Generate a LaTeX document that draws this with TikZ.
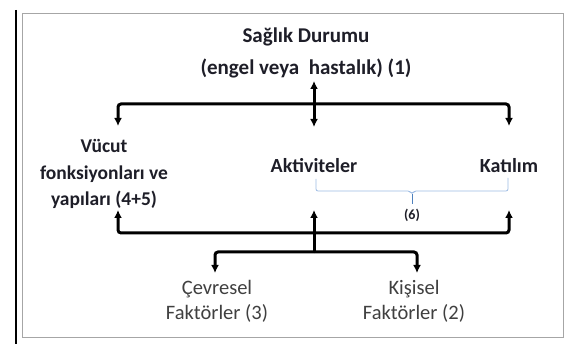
\documentclass[tikz,border=0pt]{standalone}
\usepackage{fontspec}
\setmainfont{Carlito}
\usetikzlibrary{arrows.meta}
\definecolor{txt}{HTML}{1E1E28}
\definecolor{lowtxt}{HTML}{404040}
\definecolor{brk}{HTML}{9DBCE4}
\definecolor{brkmid}{HTML}{4F81BD}
\definecolor{framegray}{HTML}{A6A6A6}
\begin{document}
\begin{tikzpicture}[x=1pt,y=-1pt,
  conn/.style={line width=3pt, rounded corners=3pt},
  tip/.style={-{Latex[length=8pt,width=8pt]}},
  twotip/.style={{Latex[length=8pt,width=8pt]}-{Latex[length=8pt,width=8pt]}},
  boldtxt/.style={inner sep=0pt, align=center, text=txt, font=\fontsize{20}{27}\selectfont\bfseries},
  lowtext/.style={inner sep=0pt, align=center, text=lowtxt, font=\fontsize{20.5}{25}\selectfont},
  bracket/.style={draw=brk, line width=0.8pt, rounded corners=2pt}]
\useasboundingbox (0,0) rectangle (568,344);
\fill[white] (0,0) rectangle (568,344);
\draw[framegray, line width=1pt] (22,13.5) rectangle (563,338);
\draw[line width=2pt] (16,10) -- (16,344);

% texts (base anchor = baseline of the last line)
\node[boldtxt, font=\fontsize{21}{32}\selectfont\bfseries, anchor=base] (title) at (306,75) {Sağlık Durumu\\(engel veya\ \ hastalık) (1)};
\node[boldtxt, font=\fontsize{19.5}{26.5}\selectfont\bfseries, anchor=base] (body) at (104,206) {Vücut\\fonksiyonları ve\\yapıları (4+5)};
\node[boldtxt, anchor=base] (akt) at (314,173) {Aktiviteler};
\node[boldtxt, anchor=base] (kat) at (509,173) {Katılım};
\node[boldtxt, font=\fontsize{14}{16}\selectfont\bfseries] (six) at (412,215) {(6)};
\node[lowtext, anchor=base] (cev) at (217,320) {Çevresel\\Faktörler (3)};
\node[lowtext, anchor=base] (kis) at (414,320) {Kişisel\\Faktörler (2)};

% coordinates of arrow ends
\coordinate (a0) at (314,81);
\coordinate (h) at (314,104);
\coordinate (a1) at (118,126);
\coordinate (a2) at (314,127);
\coordinate (a3) at (509,126);
\coordinate (g) at (314,233);
\coordinate (b1) at (118,210);
\coordinate (b2) at (314,210);
\coordinate (b3) at (509,210);
\coordinate (br) at (314,252);
\coordinate (c1) at (215,273);
\coordinate (c2) at (417,273);

% top connectors
\draw[conn, twotip] (a0) -- (a2);
\draw[conn, tip] (h) -| (a1);
\draw[conn, tip] (h) -| (a3);

% bottom connectors
\draw[conn, tip] (g) -| (b1);
\draw[conn, tip] (g) -| (b3);
\draw[conn, tip] (br) -- (b2);
\draw[conn, tip] (br) -| (c1);
\draw[conn, tip] (br) -| (c2);

% brace (6)
\draw[bracket] (316,179) -- (316,191) -- (410,191) -- (412,194) -- (414,191) -- (508,191) -- (508,178);
\draw[brkmid, line width=0.8pt] (412,194) -- (412,204);
\end{tikzpicture}
\end{document}
